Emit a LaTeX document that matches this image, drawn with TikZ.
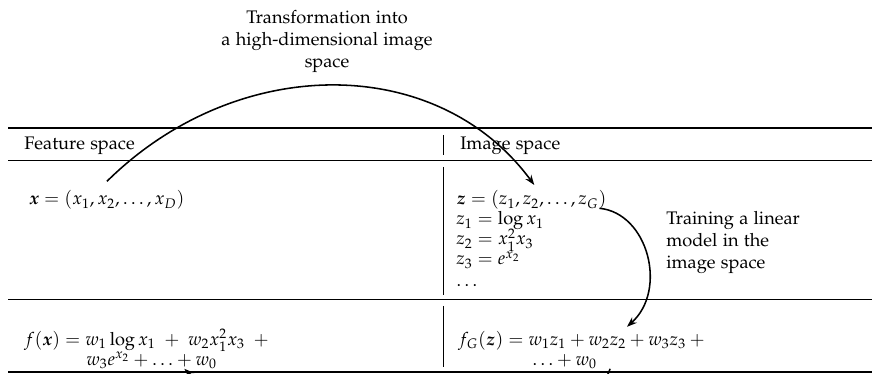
\documentclass[tikz,border=0pt]{standalone}
\usepackage{amsmath}
\usepackage[T1]{fontenc}
\usepackage[sc]{mathpazo}
\usepackage{bm}
\usetikzlibrary{arrows.meta}

\begin{document}
\begin{tikzpicture}[x=0.55pt, y=-0.55pt, >={Stealth[length=5.5pt, width=4pt]},
  cell/.style={anchor=base west, inner sep=0pt},
  note/.style={align=center, inner sep=0pt, anchor=north},
  heavyrule/.style={line width=0.75pt},
  lightrule/.style={line width=0.4pt},
  colbar/.style={line width=0.4pt},
  mapping/.style={->, line width=0.85pt}]
\path[use as bounding box, clip] (0,0) rectangle (872,374);
\node[note] (title) at (327,10) {Transformation into\\a high-dimensional image\\space};
\node[note, align=left, anchor=north west] (train) at (666,211) {Training a linear\\model in the\\image space};
\draw[heavyrule] (8,128) -- (872,128);
\draw[lightrule] (8,160) -- (872,160);
\draw[lightrule] (8,299) -- (872,299);
\draw[heavyrule] (8,372) -- (872,372);
\draw[colbar] (443,135) -- (443,155);
\draw[colbar] (443,167) -- (443,295);
\draw[colbar] (443,306) -- (443,367);
\node[cell] (feat) at (24,150) {Feature space};
\node[cell] (img) at (460,150) {Image space};
\node[cell] (xvec) at (29,205) {$\bm{x} = (x_1, x_2, \ldots, x_D)$};
\node[cell] (zvec) at (456,205) {$\bm{z} = (z_1, z_2, \ldots, z_G)$};
\node[cell] (zone) at (456,225) {$z_1 = \log x_1$};
\node[cell] (ztwo) at (456,245) {$z_2 = x_1^2 x_3$};
\node[cell] (zthree) at (456,265) {$z_3 = e^{x_2}$};
\node[cell] (zdots) at (456,287) {$\ldots$};
\node[cell] (fxone) at (24,345) {$f(\bm{x}) = w_1 \log x_1 \;+\; w_2 x_1^2 x_3 \;+{}$};
\node[cell] (fxtwo) at (86,365) {$w_3 e^{x_2} + \ldots + w_0$};
\node[cell] (fgone) at (458,345) {$f_G(\bm{z}) = w_1 z_1 + w_2 z_2 + w_3 z_3 +{}$};
\node[cell] (fgtwo) at (532,365) {$\ldots + w_0$};
\draw[mapping] ([yshift=5pt]xvec.north) .. controls (237,53) and (437,53) .. ([xshift=1.6pt, yshift=3pt]zvec.north);
\draw[mapping] ([xshift=-4pt, yshift=1pt]zvec.south east) .. controls (648,213) and (668,290) .. ([xshift=24pt, yshift=2pt]fgone.north);
\draw[mapping] ([xshift=7pt]fgtwo.south east) .. controls (590,440) and (260,440) .. ([xshift=18pt]fxtwo.south);
\end{tikzpicture}
\end{document}
